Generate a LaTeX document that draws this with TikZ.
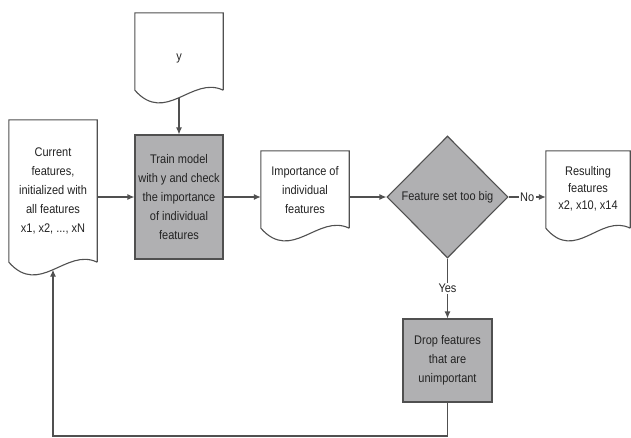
\documentclass[tikz,border=0pt]{standalone}
\usepackage{fontspec}
\setmainfont{Liberation Sans}[FakeStretch=0.88]
\usetikzlibrary{shapes.geometric,arrows.meta,calc}
\definecolor{linec}{RGB}{80,80,80}
\definecolor{boxfill}{RGB}{176,176,178}
\definecolor{txt}{RGB}{35,35,35}
\tikzset{
  ln/.style={draw=linec, line width=1.1pt},
  arr/.style={draw=linec, line width=1.1pt, -{Latex[length=7pt,width=6pt]}},
  txtstyle/.style={text=txt, font=\fontsize{12.5}{19}\selectfont, align=center, inner sep=0pt},
  docnode/.style={txtstyle, draw=none, rectangle, minimum width=88pt},
  procbox/.style={txtstyle, rectangle, ln, fill=boxfill, minimum width=88pt},
  decision/.style={txtstyle, diamond, ln, fill=boxfill, minimum width=121pt, minimum height=122pt},
  lbl/.style={txtstyle, fill=white, inner sep=1.5pt}
}
\newcommand\docshape[1]{%
  \draw[ln, fill=white] (#1.south east) -- (#1.north east) -- (#1.north west) -- (#1.south west)
    .. controls ($(#1.south west)!0.35!(#1.south east)+(0,35)$) and ($(#1.south west)!0.65!(#1.south east)+(0,-15)$) .. (#1.south east);}
\begin{document}
\begin{tikzpicture}[x=1pt,y=-1pt]
\useasboundingbox (0,0) rectangle (631,437);
% documents (shapes first, then text)
\node[docnode, minimum height=77pt] (ydoc) at (179,51.5) {};
\docshape{ydoc}
\node[txtstyle] (ytext) at (179,58) {y};
\node[docnode, minimum height=142pt] (cur) at (53,191) {};
\docshape{cur}
\node[txtstyle] (curtext) at (53,191) {Current\\features,\\initialized with\\all features\\x1, x2, ..., xN};
\node[docnode, minimum height=77pt] (imp) at (305,189.5) {};
\docshape{imp}
\node[txtstyle] (imptext) at (305,190) {Importance of\\individual\\features};
\node[docnode, minimum width=84pt, minimum height=77pt] (res) at (588,189.5) {};
\docshape{res}
\node[txtstyle, font=\fontsize{12.5}{17}\selectfont] (restext) at (588,189) {Resulting\\features\\x2, x10, x14};
% process boxes
\node[procbox, minimum height=124pt] (train) at (179,197) {Train model\\with y and check\\the importance\\of individual\\features};
\node[procbox, minimum width=89pt, minimum height=83pt] (drop) at (447.5,360.5) {Drop features\\that are\\unimportant};
\node[decision] (dia) at (447.5,197) {Feature set too big};
\coordinate (bl) at (53,436);
% connectors
\draw[arr] ([yshift=-7.5pt]ydoc.south) -- (train.north);
\draw[arr] (cur.east |- train.west) -- (train.west);
\draw[arr] (train.east) -- (imp.west |- train.east);
\draw[arr] (imp.east |- dia.west) -- (dia.west);
\draw[arr] (dia.east) -- node[lbl] {No} (res.west |- dia.east);
\draw[arr] (dia.south) -- node[lbl] {Yes} (drop.north);
\draw[arr] (drop.south) |- (bl) -- ([yshift=-7.5pt]cur.south);
\end{tikzpicture}
\end{document}
